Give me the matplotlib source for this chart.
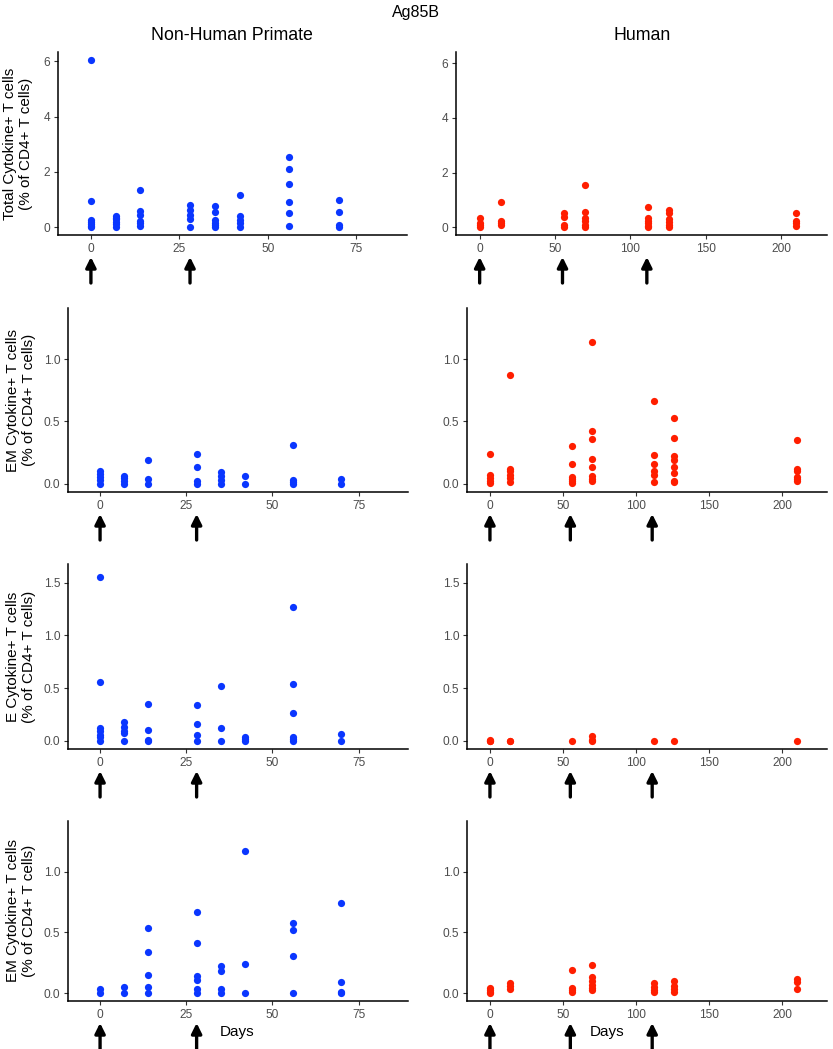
import matplotlib
matplotlib.use('Agg')
from matplotlib import pyplot as plt
from matplotlib import transforms

plt.rcParams['font.family'] = ['Liberation Sans', 'DejaVu Sans']

W, H = 833, 1049

# values, keyed by day
nhp_total = {0: [6.05, 0.94, 0.27, 0.18, 0.1, 0.04, 0.0],
             7: [0.42, 0.35, 0.28, 0.2, 0.1, 0.02],
             14: [1.34, 0.57, 0.45, 0.22, 0.15, 0.05],
             28: [0.82, 0.62, 0.45, 0.3, 0.0],
             35: [0.75, 0.54, 0.27, 0.17, 0.08, 0.0],
             42: [1.17, 0.41, 0.27, 0.15, 0.02],
             56: [2.52, 2.11, 1.57, 0.91, 0.53, 0.03],
             70: [0.97, 0.54, 0.07, 0.0]}
hum_total = {0: [0.34, 0.15, 0.06, 0.0],
             14: [0.91, 0.23, 0.15, 0.06],
             56: [0.51, 0.37, 0.09, 0.0],
             70: [1.54, 0.54, 0.35, 0.21, 0.09, 0.02],
             112: [0.73, 0.33, 0.24, 0.15, 0.05, 0.0],
             126: [0.61, 0.51, 0.29, 0.2, 0.09, 0.0],
             210: [0.5, 0.24, 0.15, 0.05]}

nhp_em = {0: [0.1, 0.08, 0.05, 0.03, 0.0],
          7: [0.064, 0.043, 0.02, 0.0],
          14: [0.19, 0.04, 0.0],
          28: [0.24, 0.13, 0.02, 0.0],
          35: [0.09, 0.065, 0.03, 0.0],
          42: [0.06, 0.0],
          56: [0.31, 0.03, 0.013, 0.0],
          70: [0.04, 0.0]}
hum_em = {0: [0.24, 0.067, 0.045, 0.024, 0.003],
          14: [0.87, 0.12, 0.1, 0.067, 0.043, 0.013],
          56: [0.3, 0.16, 0.05, 0.035, 0.019, 0.003],
          70: [1.14, 0.42, 0.36, 0.2, 0.13, 0.06, 0.038, 0.019],
          112: [0.66, 0.23, 0.16, 0.1, 0.07, 0.013],
          126: [0.53, 0.37, 0.225, 0.19, 0.13, 0.083, 0.024, 0.013],
          210: [0.35, 0.12, 0.1, 0.05, 0.038, 0.019]}

nhp_e = {0: [1.56, 0.56, 0.12, 0.09, 0.057, 0.03, 0.0],
         7: [0.175, 0.13, 0.095, 0.07, 0.0],
         14: [0.35, 0.1, 0.01, 0.0],
         28: [0.34, 0.16, 0.054, 0.0],
         35: [0.52, 0.12, 0.0],
         42: [0.035, 0.016, 0.0],
         56: [1.27, 0.535, 0.26, 0.035, 0.013, 0.0],
         70: [0.067, 0.0]}
hum_e = {0: [0.005, 0.0, 0.0],
         14: [0.0, 0.0],
         56: [0.0],
         70: [0.045, 0.005, 0.0],
         112: [0.0],
         126: [0.0],
         210: [0.0]}

nhp_em2 = {0: [0.033, 0.0],
           7: [0.047, 0.0],
           14: [0.54, 0.335, 0.146, 0.052, 0.0],
           28: [0.67, 0.415, 0.14, 0.107, 0.03, 0.0],
           35: [0.22, 0.18, 0.036, 0.0],
           42: [1.17, 0.24, 0.0],
           56: [0.577, 0.52, 0.305, 0.0],
           70: [0.74, 0.093, 0.008, 0.0]}
hum_em2 = {0: [0.04, 0.025, 0.008, 0.0],
           14: [0.08, 0.058, 0.033],
           56: [0.19, 0.044, 0.025, 0.005],
           70: [0.233, 0.13, 0.096, 0.069, 0.044, 0.025],
           112: [0.085, 0.052, 0.027, 0.005],
           126: [0.096, 0.058, 0.03, 0.005],
           210: [0.118, 0.09, 0.03]}

row_labels = ['Total Cytokine+ T cells\n(% of CD4+ T cells)',
              'EM Cytokine+ T cells\n(% of CD4+ T cells)',
              'E Cytokine+ T cells\n(% of CD4+ T cells)',
              'EM Cytokine+ T cells\n(% of CD4+ T cells)']
nhp_arrows = [0, 28]
hum_arrows = [0, 55, 111]

blue = '#0A36FF'
red = '#FF1E00'

fig = plt.figure(figsize=(W / 100, H / 100), dpi=100)


def add_ax(l, t, r, b):
    return fig.add_axes([l / W, 1 - b / H, (r - l) / W, (b - t) / H])


def style(ax, xlim, ylim, xticks, yticks, yfmt):
    ax.set_xlim(*xlim)
    ax.set_ylim(*ylim)
    ax.set_xticks(xticks)
    ax.set_yticks(yticks)
    ax.set_yticklabels([yfmt % v for v in yticks])
    for s in ['top', 'right']:
        ax.spines[s].set_visible(False)
    for s in ['left', 'bottom']:
        ax.spines[s].set_linewidth(1.1)
        ax.spines[s].set_color('black')
    ax.tick_params(length=3, width=0.8, color='#333333', labelcolor='#4D4D4D',
                   labelsize=8.6, pad=2.5)


def scatter(ax, data, color):
    for day, vals in data.items():
        ax.scatter([day] * len(vals), vals, s=27, color=color, lw=0, zorder=3)


def arrows(ax, days, bottom_px):
    tr = transforms.blended_transform_factory(ax.transData, fig.transFigure)
    y0 = 1 - (bottom_px + 48) / H
    y1 = 1 - (bottom_px + 22) / H
    for d in days:
        ax.annotate('', xy=(d, y1), xytext=(d, y0), xycoords=tr, textcoords=tr,
                    annotation_clip=False,
                    arrowprops=dict(arrowstyle='-|>', color='black', lw=2.4,
                                    mutation_scale=15, shrinkA=0, shrinkB=0))


# rows: (nhp data, human data, nhp rect, human rect, nhp ylim, human ylim, yticks, fmt)
rows = [
    (nhp_total, hum_total, (58, 52, 407, 235), (456, 52, 827, 235),
     (-0.28, 6.33), (-0.29, 6.42), [0, 2, 4, 6], '%d'),
    (nhp_em, hum_em, (68, 308, 408, 492), (467, 308, 827, 492),
     (-0.067, 1.41), (-0.067, 1.41), [0.0, 0.5, 1.0], '%.1f'),
    (nhp_e, hum_e, (68, 564, 408, 749), (467, 564, 827, 749),
     (-0.08, 1.68), (-0.08, 1.68), [0.0, 0.5, 1.0, 1.5], '%.1f'),
    (nhp_em2, hum_em2, (68, 821, 408, 1001), (467, 821, 827, 1001),
     (-0.066, 1.42), (-0.066, 1.42), [0.0, 0.5, 1.0], '%.1f'),
]

for i, (nd, hd, nr, hr, nyl, hyl, yt, fmt) in enumerate(rows):
    ax = add_ax(*nr)
    style(ax, (-9.3, 89.3), nyl, [0, 25, 50, 75], yt, fmt)
    scatter(ax, nd, blue)
    arrows(ax, nhp_arrows, nr[3])

    ax2 = add_ax(*hr)
    style(ax2, (-15.7, 230.6), hyl, [0, 50, 100, 150, 200], yt, fmt)
    scatter(ax2, hd, red)
    arrows(ax2, hum_arrows, hr[3])

    xlab = 18 if i == 0 else 21
    fig.text(xlab / W, 1 - ((nr[1] + nr[3]) / 2) / H, row_labels[i], rotation=90,
             ha='center', va='center', multialignment='center', fontsize=11,
             linespacing=1.12)

fig.text(416 / W, 1 - 12 / H, 'Ag85B', ha='center', va='center', fontsize=11.5)
fig.text(232 / W, 1 - 35 / H, 'Non-Human Primate', ha='center', va='center', fontsize=12.8)
fig.text(642 / W, 1 - 35 / H, 'Human', ha='center', va='center', fontsize=12.8)
fig.text(237 / W, 1 - 1032 / H, 'Days', ha='center', va='center', fontsize=11)
fig.text(607 / W, 1 - 1032 / H, 'Days', ha='center', va='center', fontsize=11)

fig.savefig('out.png', dpi=100)
plt.close(fig)
